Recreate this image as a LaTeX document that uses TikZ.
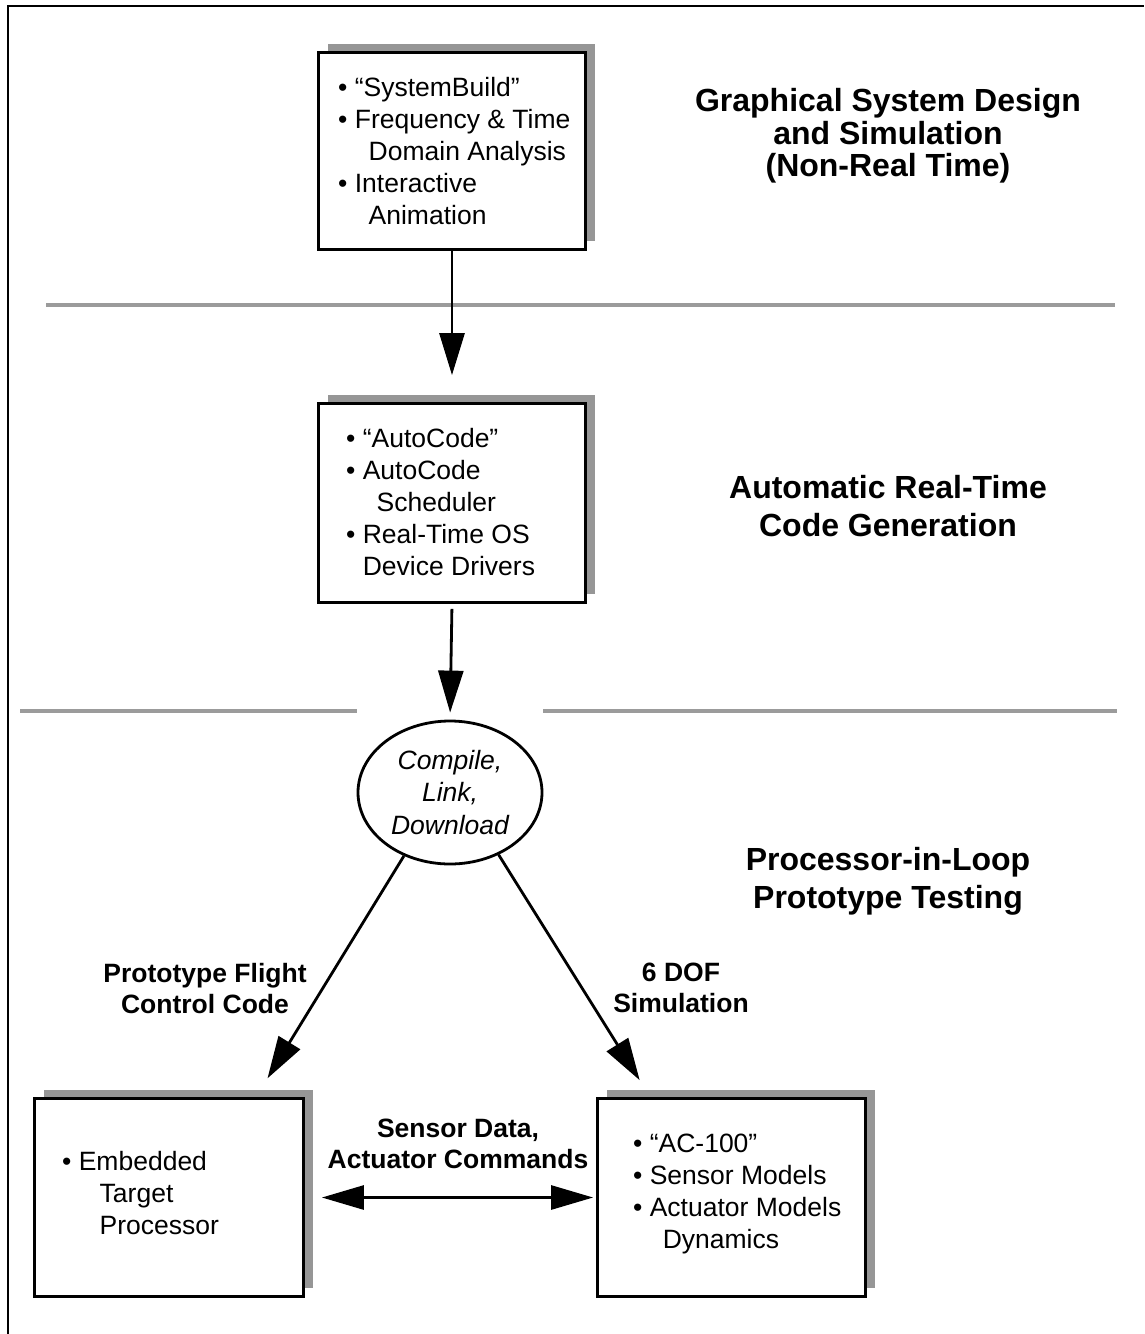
\documentclass[tikz,border=0pt]{standalone}
\usepackage{fontspec}
\setmainfont{Liberation Sans}
\usetikzlibrary{arrows.meta,shapes.geometric,shadows,calc}
\definecolor{shadegray}{RGB}{150,150,150}
\definecolor{rulegray}{RGB}{155,155,155}
\newcommand{\bodysize}{\fontsize{26.5}{32}\selectfont}

\begin{document}
\begin{tikzpicture}[x=1pt,y=-1pt,
  box/.style={draw,line width=2.8pt,fill=white,inner sep=0pt,
    drop shadow={shadow xshift=9pt,shadow yshift=9pt,fill=shadegray,opacity=1}},
  list/.style={anchor=north west,inner sep=0pt,align=left,font=\bodysize},
  title/.style={anchor=north,inner sep=0pt,align=center},
  label/.style={anchor=north,inner sep=0pt,align=center,font=\bfseries\fontsize{26.5}{31}\selectfont},
  divider/.style={line width=4pt,rulegray},
  conn/.style={line width=2.8pt,-{Triangle[length=42pt,width=25pt]}},
  link/.style={line width=2.8pt,{Triangle[length=42pt,width=24pt]}-{Triangle[length=42pt,width=24pt]}}
]
\useasboundingbox (0,0) rectangle (1144,1334);

% outer frame (top and left edges)
\draw[line width=2.8pt] (8,1334) -- (8,6) -- (1144,6);

% section dividers
\draw[divider] (46,305) -- (1115,305);
\draw[divider] (20,711) -- (357,711);
\draw[divider] (543,711) -- (1117,711);

% boxes
\node[box,minimum width=267pt,minimum height=197pt] (b1) at (452,151) {};
\node[box,minimum width=267pt,minimum height=199pt] (b2) at (452,503) {};
\node[box,minimum width=269pt,minimum height=198pt] (bl) at (169,1197.5) {};
\node[box,minimum width=268pt,minimum height=198pt] (br) at (731.5,1197.5) {};

% compile step
\node[ellipse,draw,line width=2.8pt,fill=white,inner sep=0pt,
  minimum width=184pt,minimum height=143pt,align=center,
  font=\itshape\fontsize{26.5}{32.5}\selectfont] (ell) at (450,792.5)
  {Compile,\\Link,\\Download};

% box contents
\node[list] (l1) at (338,77) {%
  \textbullet\ “SystemBuild”\\
  \textbullet\ Frequency \& Time\\
  \hspace*{30.5pt}Domain Analysis\\
  \textbullet\ Interactive\\
  \hspace*{30.5pt}Animation};
\node[list] (l2) at (346,428) {%
  \textbullet\ “AutoCode”\\
  \textbullet\ AutoCode\\
  \hspace*{30.5pt}Scheduler\\
  \textbullet\ Real-Time OS\\
  \hspace*{16.6pt}Device Drivers};
\node[list] (l3) at (62,1151) {%
  \textbullet\ Embedded\\
  \hspace*{37.5pt}Target\\
  \hspace*{37.5pt}Processor};
\node[list] (l4) at (633,1134) {%
  \textbullet\ “AC-100”\\
  \textbullet\ Sensor Models\\
  \textbullet\ Actuator Models\\
  \hspace*{29.6pt}Dynamics};

% stage titles
\node[title,font=\bfseries\fontsize{32}{32.5}\selectfont] (t1) at (888,88.6)
  {Graphical System Design\\and Simulation\\(Non-Real Time)};
\node[title,font=\bfseries\fontsize{32}{38}\selectfont] (t2) at (888,475)
  {Automatic Real-Time\\Code Generation};
\node[title,font=\bfseries\fontsize{32}{38.5}\selectfont] (t3) at (888,847)
  {Processor-in-Loop\\Prototype Testing};

% connector labels
\node[label] (k1) at (205,962.6) {Prototype Flight\\Control Code};
\node[label] (k2) at (681,962.6) {6 DOF\\Simulation};
\node[label] (k3) at (458,1118.6) {Sensor Data,\\Actuator Commands};

% connectors
\draw[conn] (b1.south) -- ([yshift=27pt]b2.north);
\draw[conn,shorten <=5pt,shorten >=7pt] (b2.south) -- (ell.north);
\draw[conn,shorten >=22pt] (ell.234) -- ($(bl.north west)!0.82!(bl.north east)$);
\draw[conn,shorten >=20pt] (ell.308) -- ($(br.north west)!0.2!(br.north east)$);
\draw[link,shorten <=17pt,shorten >=3pt] (bl.east) -- (bl.east -| br.west);
\end{tikzpicture}
\end{document}
